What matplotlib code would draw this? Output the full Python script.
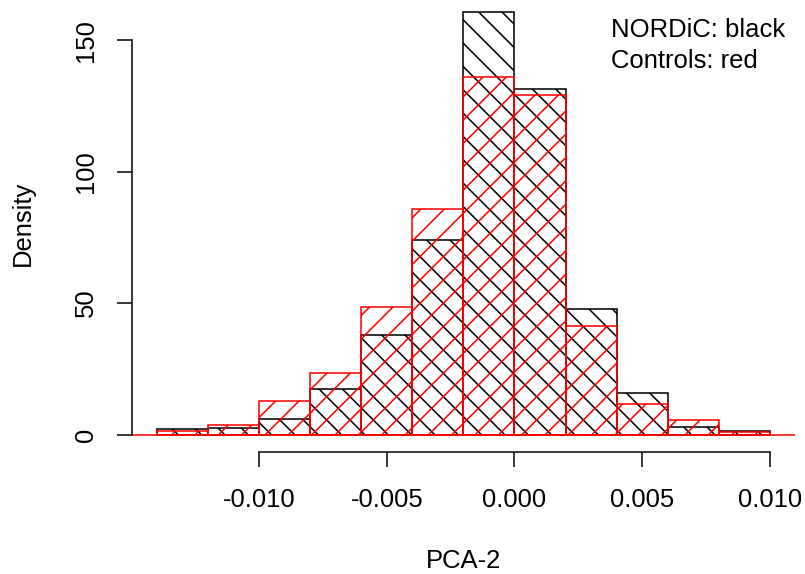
import numpy as np
import matplotlib
matplotlib.use("Agg")
import matplotlib.pyplot as plt

# histogram breaks and densities
breaks = [-0.014, -0.012, -0.010, -0.008, -0.006, -0.004, -0.002,
          0.000, 0.002, 0.004, 0.006, 0.008, 0.010]
nordic = [2.3, 2.4, 6.1, 17.2, 37.8, 74.0, 160.6, 131.4, 47.7, 15.9, 2.8, 1.2]
controls = [1.5, 3.7, 12.6, 23.3, 48.5, 85.9, 136.1, 129.1, 41.2, 11.5, 5.7, 0.9]

x_ticks = [-0.010, -0.005, 0.000, 0.005, 0.010]
y_ticks = [0, 50, 100, 150]

DPI = 140
W, H = 805, 574
FS = 25.7 * 72 / DPI  # ~25.7 px text

plt.rcParams["font.family"] = ["Liberation Sans", "DejaVu Sans"]
plt.rcParams["hatch.linewidth"] = 0.8

fig = plt.figure(figsize=(W / DPI, H / DPI), dpi=DPI)

# R-style plot region: limits extended 4%
xlo, xhi = breaks[0], breaks[-1]
xr = xhi - xlo
ymax = max(max(nordic), max(controls))
xlim = (xlo - 0.04 * xr, xhi + 0.04 * xr)
ylim = (-0.04 * ymax, ymax * 1.04)

left, right = 132.3 / W, 794.5 / W
bottom = (H - 451.5) / H
top = (H + 4.6) / H
ax = fig.add_axes([left, bottom, right - left, top - bottom])
ax.set_xlim(*xlim)
ax.set_ylim(*ylim)

lefts = np.array(breaks[:-1])
widths = np.diff(breaks)

ax.bar(lefts, nordic, width=widths, align="edge", fill=False,
       edgecolor="black", hatch="\\\\", linewidth=0.8, clip_on=False)
ax.bar(lefts, controls, width=widths, align="edge", fill=False,
       edgecolor="red", hatch="//", linewidth=0.8, clip_on=False)
ax.axhline(0, color="red", linewidth=0.8)

for s in ["top", "right"]:
    ax.spines[s].set_visible(False)
ax.spines["left"].set_bounds(y_ticks[0], y_ticks[-1])
ax.spines["bottom"].set_bounds(x_ticks[0], x_ticks[-1])
for s in ["left", "bottom"]:
    ax.spines[s].set_linewidth(0.9)
    ax.spines[s].set_color("#222222")

ax.set_xticks(x_ticks)
ax.set_xticklabels([f"{v:.3f}" for v in x_ticks], fontsize=FS)
ax.set_yticks(y_ticks)
ax.set_yticklabels([str(v) for v in y_ticks], fontsize=FS, rotation=90,
                   va="center")
ax.tick_params(length=7.8, width=0.9, color="#222222")
ax.tick_params(axis="x", pad=11)
ax.tick_params(axis="y", pad=10)

ax.set_xlabel("PCA-2", fontsize=FS, labelpad=19)
ax.set_ylabel("Density", fontsize=FS, labelpad=20)

fig.text(611 / W, 1 - 36.7 / H, "NORDiC: black", fontsize=FS, va="baseline")
fig.text(611 / W, 1 - 68.0 / H, "Controls: red", fontsize=FS, va="baseline")

fig.savefig("out.png", dpi=DPI)
